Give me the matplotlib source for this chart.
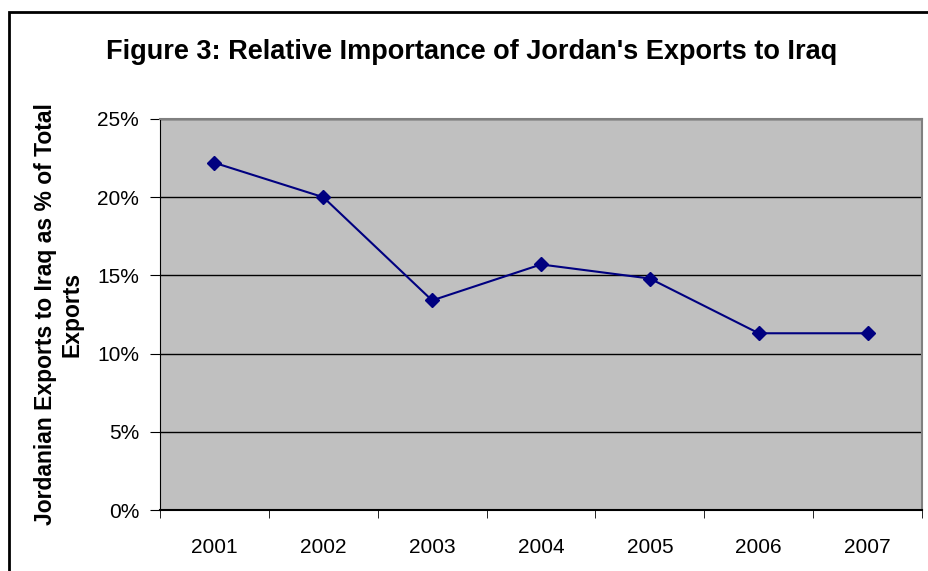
import matplotlib
matplotlib.use("Agg")
import matplotlib.pyplot as plt
from matplotlib.patches import Rectangle
from matplotlib.ticker import FuncFormatter

years = ["2001", "2002", "2003", "2004", "2005", "2006", "2007"]
share = [22.2, 20.0, 13.4, 15.7, 14.8, 11.3, 11.3]  # % of total exports

plt.rcParams["font.family"] = ["Liberation Sans", "DejaVu Sans"]

fig = plt.figure(figsize=(9.29, 5.71), dpi=100)
ax = fig.add_axes([160 / 929, 1 - 510 / 571, 762 / 929, 391 / 571])
ax.set_facecolor("#C0C0C0")

x = list(range(len(years)))
ax.plot(x, share, color="#000080", lw=1.5, marker="D", ms=7, zorder=3)

ax.set_xlim(-0.5, len(years) - 0.5)
ax.set_ylim(0, 25)
ax.set_yticks([0, 5, 10, 15, 20, 25])
ax.yaxis.set_major_formatter(FuncFormatter(lambda v, p: "%d%%" % v))
ax.set_xticks(x)
ax.set_xticklabels(years)
ax.set_xticks([i - 0.5 for i in range(len(years) + 1)], minor=True)
ax.tick_params(axis="x", which="major", length=0, pad=20, labelsize=15)
ax.tick_params(axis="x", which="minor", length=6, direction="out", color="black")
ax.tick_params(axis="y", length=7, direction="out", labelsize=15, pad=8)

ax.grid(axis="y", color="black", lw=1)
ax.set_axisbelow(True)
for side in ["top", "right"]:
    ax.spines[side].set_color("#808080")
    ax.spines[side].set_linewidth(1.5)
ax.spines["left"].set_color("black")
ax.spines["bottom"].set_color("black")
ax.spines["bottom"].set_linewidth(1.5)

ax.set_ylabel("Jordanian Exports to Iraq as % of Total\nExports",
              fontsize=16.5, fontweight="bold", labelpad=10)

fig.text(472 / 929, 1 - 52 / 571, "Figure 3: Relative Importance of Jordan's Exports to Iraq",
         ha="center", va="center", fontsize=19.5, fontweight="bold")

# outer chart border (top and left edges visible)
fig.patches.append(Rectangle((9 / 929, -0.1), 1.2, 1.1 - 12 / 571,
                             transform=fig.transFigure, fill=False,
                             edgecolor="black", lw=2, clip_on=False))

fig.savefig("out.png", dpi=100)
